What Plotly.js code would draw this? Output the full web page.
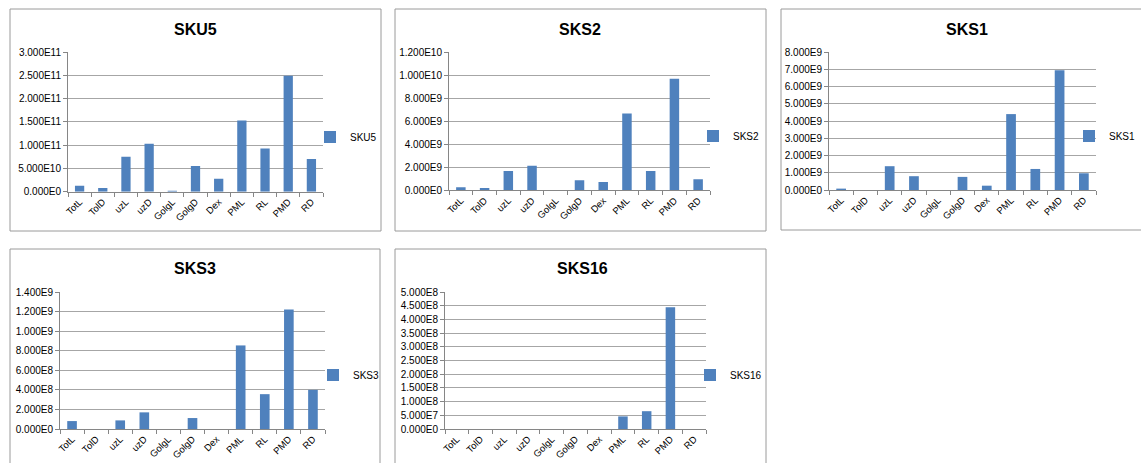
<!DOCTYPE html>
<html>
<head>
<meta charset="utf-8">
<script src="https://cdn.plot.ly/plotly-3.0.1.min.js"></script>
<style>html,body{margin:0;padding:0;background:#fff;overflow:hidden;}#chart{width:1141px;height:463px;}</style>
</head>
<body>
<div id="chart"></div>
<script>
// ---- data ----
const categories = ["TotL","TolD","uzL","uzD","GolgL","GolgD","Dex","PML","RL","PMD","RD"];
const sku5  = [1.3e10, 0.8e10, 7.5e10, 1.03e11, 0.2e10, 5.5e10, 2.8e10, 1.53e11, 9.3e10, 2.49e11, 7.0e10];
const sks2  = [0.26e9, 0.2e9, 1.68e9, 2.14e9, 0, 0.87e9, 0.72e9, 6.67e9, 1.68e9, 9.68e9, 0.96e9];
const sks1  = [0.08e9, 0, 1.38e9, 0.8e9, 0, 0.76e9, 0.25e9, 4.4e9, 1.22e9, 6.94e9, 0.97e9];
const sks3  = [0.81e8, 0, 0.88e8, 1.7e8, 0, 1.12e8, 0, 8.54e8, 3.56e8, 12.2e8, 4.0e8];
const sks16 = [0, 0, 0, 0, 0, 0, 0, 0.46e8, 0.65e8, 4.44e8, 0];

const seriesNames = ["SKU5","SKS2","SKS1","SKS3","SKS16"];
const sku5Ticks  = [0, 5e10, 1e11, 1.5e11, 2e11, 2.5e11, 3e11];
const sks2Ticks  = [0, 2e9, 4e9, 6e9, 8e9, 1e10, 1.2e10];
const sks1Ticks  = [0, 1e9, 2e9, 3e9, 4e9, 5e9, 6e9, 7e9, 8e9];
const sks3Ticks  = [0, 2e8, 4e8, 6e8, 8e8, 1e9, 1.2e9, 1.4e9];
const sks16Ticks = [0, 5e7, 1e8, 1.5e8, 2e8, 2.5e8, 3e8, 3.5e8, 4e8, 4.5e8, 5e8];

// ---- helpers ----
function fmtE(v){ return v.toExponential(3).replace('e+','E').replace('e-','E-'); }
const W = 1141, H = 463;
const px = x => x / W;
const py = y => 1 - y / H;

const seriesData = [sku5, sks2, sks1, sks3, sks16];
const tickSets = [sku5Ticks, sks2Ticks, sks1Ticks, sks3Ticks, sks16Ticks];
// plot areas in pixels: [left, right, top, bottom]
const areas = [
  [68, 323, 52, 191.7],
  [449, 710, 52, 190.3],
  [829, 1096, 52, 190],
  [60, 325, 292, 429],
  [445, 706, 292, 429]
];
const titlePos = [[195, 29],[580, 29],[967, 29],[195, 268],[582, 268]];
const legendPos = [[310, 137],[693, 136],[1069, 136],[313, 375],[690, 375]];
const boxes = [[10, 9, 381, 231],[395, 9, 766, 231],[781, 9, 1160, 230],[10, 249, 380, 480],[395, 249, 766, 480]];

const fontFam = "Liberation Sans, Arial, sans-serif";
const gridC = "#A6A6A6", axisC = "#868686", barC = "#4F81BD";

const traces = [];
const layout = {
  width: W, height: H,
  margin: {l:0, r:0, t:0, b:0, autoexpand: false},
  paper_bgcolor: "#fff", plot_bgcolor: "rgba(0,0,0,0)",
  font: {family: fontFam, size: 10, color: "#000"},
  bargap: 0.6,
  annotations: [], shapes: []
};

for (let i = 0; i < 5; i++) {
  const sfx = i === 0 ? "" : String(i + 1);
  const legKey = "legend" + sfx;
  traces.push({
    type: "bar", x: categories, y: seriesData[i], name: seriesNames[i],
    xaxis: "x" + sfx, yaxis: "y" + sfx, legend: legKey, showlegend: true,
    marker: {color: barC, line: {width: 0}},
    hoverinfo: "x+y"
  });
  const a = areas[i];
  const ticks = tickSets[i];
  layout["xaxis" + sfx] = {
    domain: [px(a[0]), px(a[1])], anchor: "y" + sfx,
    type: "category", tickangle: -45, automargin: false,
    showline: true, linecolor: axisC, linewidth: 1,
    ticks: "outside", tickson: "boundaries", ticklen: 4, tickcolor: axisC,
    showgrid: false, zeroline: false, fixedrange: true,
    tickfont: {size: 9.5, family: fontFam, color: "#000"}
  };
  layout["yaxis" + sfx] = {
    domain: [py(a[3]), py(a[2])], anchor: "x" + sfx, automargin: false,
    range: [0, ticks[ticks.length - 1]],
    tickmode: "array", tickvals: ticks, ticktext: ticks.map(fmtE),
    showline: true, linecolor: axisC, linewidth: 1,
    ticks: "outside", ticklen: 4, tickcolor: axisC,
    showgrid: true, gridcolor: gridC, gridwidth: 1, zeroline: false, fixedrange: true,
    tickfont: {size: 10, family: fontFam, color: "#000"}
  };
  layout[legKey] = {
    x: px(legendPos[i][0]), y: py(legendPos[i][1]), xref: "paper", yref: "paper",
    xanchor: "left", yanchor: "middle", bgcolor: "rgba(0,0,0,0)",
    font: {size: 10, family: fontFam, color: "#000"}, itemclick: false
  };
  layout.annotations.push({
    text: "<b>" + seriesNames[i] + "</b>", xref: "paper", yref: "paper",
    x: px(titlePos[i][0]), y: py(titlePos[i][1]), xanchor: "center", yanchor: "middle",
    showarrow: false, font: {size: 16, family: fontFam, color: "#000"}
  });
  const b = boxes[i];
  layout.shapes.push({
    type: "rect", xref: "paper", yref: "paper",
    x0: px(b[0]), x1: px(b[2]), y0: py(b[3]), y1: py(b[1]),
    line: {color: "#9A9A9A", width: 1}, fillcolor: "rgba(0,0,0,0)", layer: "below"
  });
}

Plotly.newPlot("chart", traces, layout, {displayModeBar: false, staticPlot: true});
</script>
</body>
</html>
